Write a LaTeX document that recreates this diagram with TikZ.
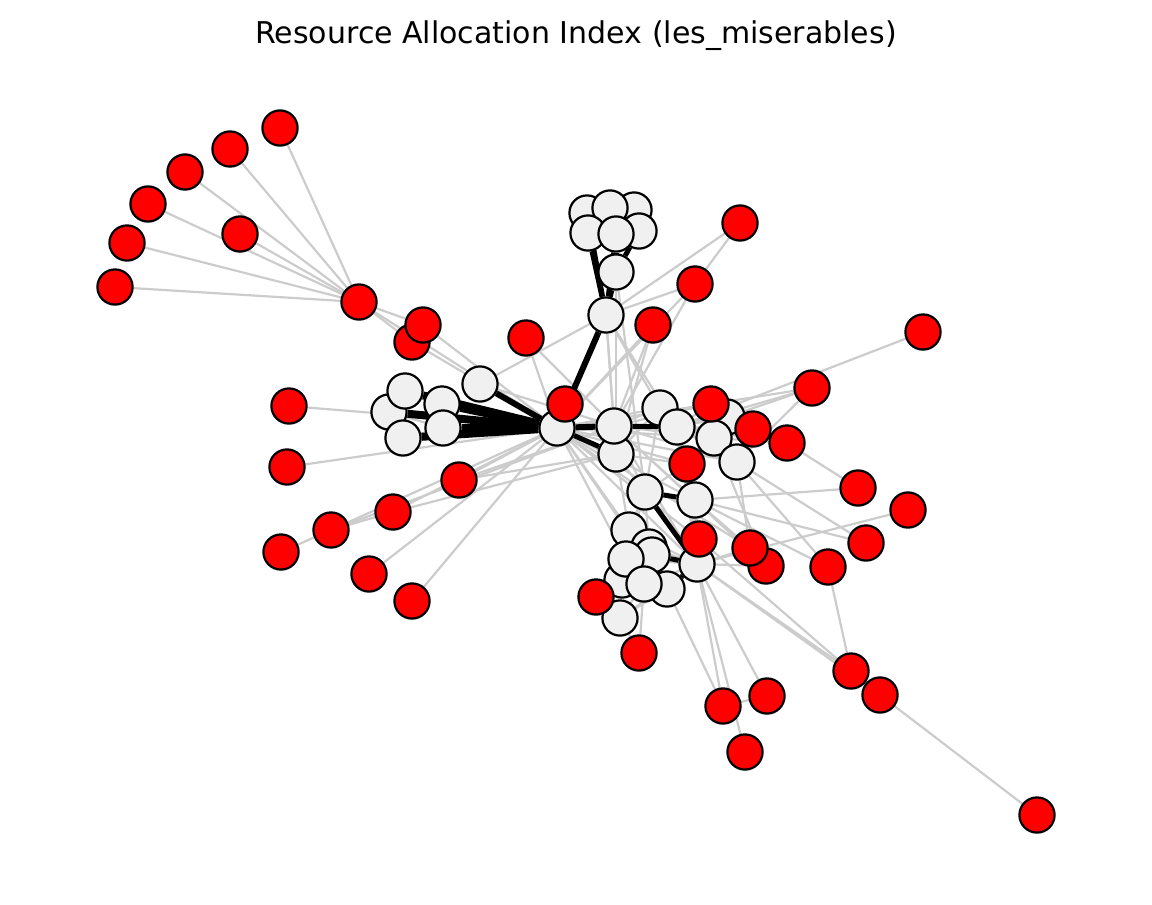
\documentclass[tikz,border=0pt]{standalone}
\usepackage{fontspec}
\newfontfamily\titlefont{DejaVu Sans}
\pgfdeclarelayer{bg}
\pgfdeclarelayer{bgthick}
\pgfsetlayers{bg,bgthick,main}
\definecolor{edgegray}{HTML}{CCCCCC}
\definecolor{nodewhite}{HTML}{F0F0F0}
\tikzset{
  base/.style={circle, draw=black, line width=1.1pt, minimum size=17.6pt, inner sep=0pt},
  rn/.style={base, fill=red},
  wn/.style={base, fill=nodewhite},
  gedge/.style={draw=edgegray, line width=1.1pt},
  tedge/.style={draw=black, line width=#1},
  tedge/.default=2pt
}
\begin{document}
\begin{tikzpicture}[x=0.5pt, y=-0.5pt]
\useasboundingbox (0,0) rectangle (1152,905);
\node[font=\titlefont\fontsize{15}{18}\selectfont, anchor=base] (title) at (576,43) {Resource Allocation Index (les\_miserables)};
% ---- far red nodes
\node[rn] (R1) at (280,128) {};
\node[rn] (R2) at (230,149) {};
\node[rn] (R3) at (185,172) {};
\node[rn] (R4) at (148,204) {};
\node[rn] (R5) at (127,243) {};
\node[rn] (R6) at (115,287) {};
\node[rn] (R7) at (240,234) {};
\node[rn] (R8) at (359,302) {};
\node[rn] (R13) at (289,406) {};
\node[rn] (R14) at (287,467) {};
\node[rn] (R16) at (393,512) {};
\node[rn] (R17) at (331,530) {};
\node[rn] (R18) at (281,552) {};
\node[rn] (R19) at (369,574) {};
\node[rn] (R20) at (412,601) {};
\node[rn] (R11) at (526,338) {};
\node[rn] (R21) at (740,223) {};
\node[rn] (R22) at (695,284) {};
\node[rn] (R23) at (653,325) {};
\node[rn] (R24) at (923,332) {};
\node[rn] (R25) at (812,388) {};
\node[rn] (R30) at (858,488) {};
\node[rn] (R31) at (908,510) {};
\node[rn] (R32) at (866,543) {};
\node[rn] (R33) at (828,567) {};
\node[rn] (R39) at (851,671) {};
\node[rn] (R40) at (880,695) {};
\node[rn] (R41) at (767,696) {};
\node[rn] (R42) at (723,706) {};
\node[rn] (R43) at (745,752) {};
\node[rn] (R44) at (1037,815) {};
\node[rn] (R38) at (639,653) {};
% ---- top cluster
\node[wn] (W1) at (587,213) {};
\node[wn] (W3) at (634,210) {};
\node[wn] (W2) at (610,208) {};
\node[wn] (W6) at (639,231) {};
\node[wn] (W4) at (588,233) {};
\node[wn] (W5) at (616,234) {};
\node[wn] (W7) at (616,272) {};
\node[wn] (W8) at (606,315) {};
% ---- left cluster
\node[wn] (W10) at (480,384) {};
\node[wn] (W12) at (389,412) {};
\node[wn] (W11) at (405,391) {};
\node[wn] (W14) at (403,438) {};
\node[wn] (W13) at (442,404) {};
\node[wn] (W15) at (443,428) {};
\node[wn] (W9) at (557,428) {};
\node[rn] (R9) at (412,342) {};
\node[rn] (R10) at (423,325) {};
\node[rn] (R12) at (565,404) {};
\node[rn] (R15) at (459,480) {};
% ---- centre / right cluster
\node[wn] (W17) at (616,454) {};
\node[wn] (W16) at (614,426) {};
\node[wn] (W18) at (660,408) {};
\node[wn] (W19) at (677,427) {};
\node[wn] (W20) at (727,417) {};
\node[wn] (W21) at (714,438) {};
\node[wn] (W22) at (737,462) {};
\node[rn] (R26) at (711,404) {};
\node[rn] (R27) at (753,429) {};
\node[rn] (R28) at (787,443) {};
\node[rn] (R29) at (687,464) {};
% ---- bottom cluster
\node[wn] (W23) at (645,492) {};
\node[wn] (W24) at (695,500) {};
\node[wn] (W25) at (629,530) {};
\node[wn] (W31) at (667,589) {};
\node[wn] (W29) at (622,580) {};
\node[wn] (W26) at (649,547) {};
\node[wn] (W27) at (652,555) {};
\node[wn] (W28) at (626,559) {};
\node[wn] (W30) at (644,584) {};
\node[wn] (W32) at (620,618) {};
\node[rn] (R37) at (596,597) {};
\node[wn] (W33) at (697,564) {};
\node[rn] (R36) at (699,539) {};
\node[rn] (R35) at (766,566) {};
\node[rn] (R34) at (750,548) {};
% ---- gray edges
\begin{pgfonlayer}{bg}
\foreach \a/\b in {R1/R8,R2/R8,R3/R8,R4/R8,R5/R8,R6/R8,R7/R8,R9/R8,R10/R8,R9/R10,R8/W9,R9/W9,R10/W9,
  R13/W9,R14/W9,R19/W9,R20/W9,R15/W9,R12/W9,R12/W8,R11/W9,R11/W16,R16/W9,R16/R17,R17/W9,R17/W16,R18/R17,R15/W16,R15/W17,R16/W17,
  W10/W8,W10/W16,W11/W12,W11/W13,W12/W14,W13/W15,W14/W15,W12/W15,W11/W14,
  W8/W16,W8/W18,W8/W19,W8/W17,W7/W17,W7/W23,
  R21/W8,R21/R22,R22/W8,R22/W9,R22/W16,R23/W9,R23/W16,R23/W17,
  W16/W17,W16/W18,W17/W18,W18/W19,W9/W18,W9/W19,W9/W21,W9/W22,W9/R26,W16/W21,W16/W22,W16/R26,
  W19/W21,W19/W22,W19/R26,W19/R27,W19/R29,W18/R29,W21/W22,W21/R26,W21/R27,W22/R27,R26/R27,
  W20/W19,W20/W21,W20/R26,W20/R27,
  R24/W19,R25/W19,R25/W22,R26/R25,W20/R25,R28/W19,R28/W21,R28/R30,
  R30/W24,R32/W24,R33/W24,R31/W33,R33/R39,W33/R39,R36/R39,R40/R44,W33/R40,
  R29/W24,R29/W17,R29/W23,R29/W33,
  W33/R42,W33/R43,W33/R41,R41/R42,W31/R42,
  W23/W25,W23/W26,W23/W28,W24/W33,W25/W26,W25/W28,W25/W29,W26/W27,W26/W28,W27/W30,W27/W31,
  W28/W29,W28/W30,W29/W30,W29/W32,W30/W31,W30/W32,W31/W32,W25/W33,W26/W33,W28/W33,W30/W33,W32/W33,
  R38/W32,R38/W30,R37/W32,R37/W29,R34/W33,R35/W33,R34/W24,R35/W24,R36/W33,R36/W24,R34/W22,R35/W21,R36/W19,
  W9/W23,W9/W25,W9/W28,W9/W33,W9/W24,W9/R29,W9/R34,W9/R36,W9/W31,W16/W23,W16/W33,W16/W24,W19/W24,W19/W33,W18/W23,
  W22/R33,W22/R32,W17/W25,W17/W33,W16/R35}
  \draw[gedge] (\a) -- (\b);
\end{pgfonlayer}
% ---- thick edges
\begin{pgfonlayer}{bgthick}
\foreach \a/\b/\w in {W9/W10/3pt,W9/W11/4pt,W9/W12/4pt,W9/W13/4pt,W9/W14/4pt,W9/W15/4pt,
  W8/W9/3pt,W8/W1/2.5pt,W8/W4/2.5pt,W7/W6/2.5pt,W7/W5/2.5pt,W7/W8/2.5pt,W8/W5/2.5pt,
  W9/W16/3pt,W9/W17/2.5pt,W16/W19/2.5pt,W23/W24/2.5pt,W23/W33/2.5pt,W27/W33/2.5pt,W31/W33/2.5pt,R37/W30/2.5pt}
  \draw[tedge=\w] (\a) -- (\b);
\end{pgfonlayer}
\end{tikzpicture}
\end{document}
